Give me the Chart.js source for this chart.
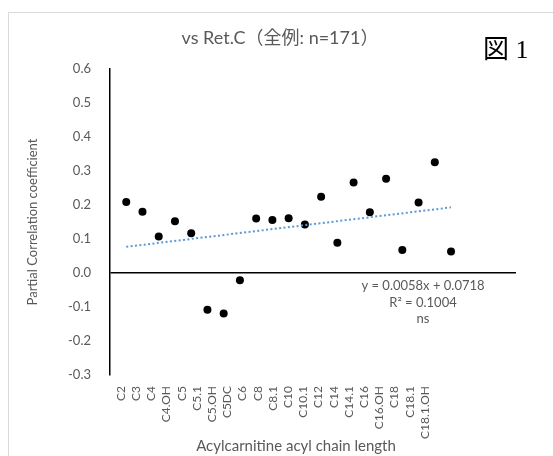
<!DOCTYPE html>
<html>
<head>
<meta charset="utf-8">
<script src="https://cdn.jsdelivr.net/npm/chart.js@4/dist/chart.umd.min.js"></script>
<style>
    html, body { margin: 0; padding: 0; background: #fff; }
    .frame { position: absolute; left: 8px; top: 12px; width: 700px; height: 600px; border: 1px solid #d9d9d9; }
    .chart-wrap { position: absolute; left: 0; top: 0; width: 553px; height: 456px; }
</style>
</head>
<body>
<div class="frame"></div>
<div class="chart-wrap"><canvas id="chart" width="553" height="456"></canvas></div>
<script>
var categories = ['C2', 'C3', 'C4', 'C4.OH', 'C5', 'C5.1', 'C5.OH', 'C5DC', 'C6', 'C8', 'C8.1',
    'C10', 'C10.1', 'C12', 'C14', 'C14.1', 'C16', 'C16.OH', 'C18', 'C18.1', 'C18.1.OH'];
var partialCorrelation = [0.209, 0.180, 0.107, 0.152, 0.117, -0.108, -0.119, -0.021, 0.160, 0.156, 0.161,
    0.143, 0.224, 0.089, 0.266, 0.179, 0.277, 0.068, 0.207, 0.326, 0.063];
var trendEnds = [0.077, 0.193];
var yRange = [-0.3, 0.6];
var chartTitle = 'vs Ret.C（全例: n=171）';
var figureLabel = '図 1';
var xTitle = 'Acylcarnitine acyl chain length';
var yTitle = 'Partial Correlation coefficient';
var trendLabels = ['y = 0.0058x + 0.0718', 'R² = 0.1004', 'ns'];

(function () {
    'use strict';

    var grey = '#595959',
        fontFamily = 'Lato, "Noto Sans", sans-serif',

        buildPoints = function () {
            return partialCorrelation.map(function (value, index) {
                return { x: index + 1, y: value };
            });
        },

        buildTrend = function () {
            return [
                { x: 1, y: trendEnds[0] },
                { x: categories.length, y: trendEnds[1] }
            ];
        },

        // title, figure number, x title and the trendline note
        textPlugin = {
            id: 'figureText',
            afterDraw: function (chart) {
                var ctx = chart.ctx;

                ctx.save();
                ctx.textBaseline = 'middle';
                ctx.textAlign = 'center';
                ctx.fillStyle = grey;

                ctx.font = '18px Lato, "Noto Sans CJK JP", sans-serif';
                ctx.fillText(chartTitle, 280, 38);

                ctx.font = '15px ' + fontFamily;
                ctx.fillText(xTitle, 296, 446);

                ctx.font = '13px ' + fontFamily;
                trendLabels.forEach(function (line, i) {
                    ctx.fillText(line, 423, 286 + i * 16.5);
                });

                ctx.fillStyle = '#000';
                ctx.textAlign = 'left';
                ctx.font = '26px "Liberation Serif", "Noto Sans CJK JP", serif';
                ctx.fillText(figureLabel, 483, 51);
                ctx.restore();
            }
        },

        getConfig = function () {
            return {
                type: 'scatter',
                data: {
                    datasets: [{
                        type: 'line',
                        data: buildTrend(),
                        borderColor: '#5b9bd5',
                        borderWidth: 2,
                        borderDash: [2, 2.4],
                        pointRadius: 0,
                        fill: false
                    }, {
                        data: buildPoints(),
                        backgroundColor: '#000',
                        borderWidth: 0,
                        pointRadius: 4
                    }]
                },
                options: {
                    responsive: false,
                    animation: false,
                    devicePixelRatio: 1,
                    layout: { padding: { left: 21, top: 69, right: 37, bottom: 0 } },
                    plugins: {
                        legend: { display: false },
                        tooltip: { enabled: false }
                    },
                    scales: {
                        x: {
                            type: 'linear',
                            display: false,
                            min: 0,
                            max: 25
                        },
                        xl: {
                            type: 'linear',
                            position: 'bottom',
                            min: 0.28,
                            max: 27,
                            grid: { display: false, drawTicks: false },
                            border: { display: false },
                            afterBuildTicks: function (scale) {
                                scale.ticks = categories.map(function (c, i) {
                                    return { value: i + 1 };
                                });
                            },
                            afterFit: function (scale) {
                                scale.height = 81;
                            },
                            ticks: {
                                autoSkip: false,
                                minRotation: 90,
                                maxRotation: 90,
                                padding: 11,
                                color: grey,
                                font: { family: fontFamily, size: 12 },
                                callback: function (value, index) {
                                    return categories[index];
                                }
                            }
                        },
                        y: {
                            min: yRange[0],
                            max: yRange[1],
                            border: { display: true, color: '#000', width: 1.5 },
                            grid: {
                                drawTicks: false,
                                lineWidth: 1.5,
                                color: function (context) {
                                    return context.tick && Math.abs(context.tick.value) < 1e-9 ? '#000' : 'rgba(0,0,0,0)';
                                }
                            },
                            afterFit: function (scale) {
                                scale.width = 89;
                            },
                            ticks: {
                                stepSize: 0.1,
                                padding: 19,
                                color: grey,
                                font: { family: fontFamily, size: 13 },
                                callback: function (value) {
                                    return value.toFixed(1);
                                }
                            },
                            title: {
                                display: true,
                                text: yTitle,
                                color: grey,
                                font: { family: fontFamily, size: 13 }
                            }
                        }
                    }
                },
                plugins: [textPlugin]
            };
        };

    new Chart(document.getElementById('chart').getContext('2d'), getConfig());
}());
</script>
</body>
</html>
